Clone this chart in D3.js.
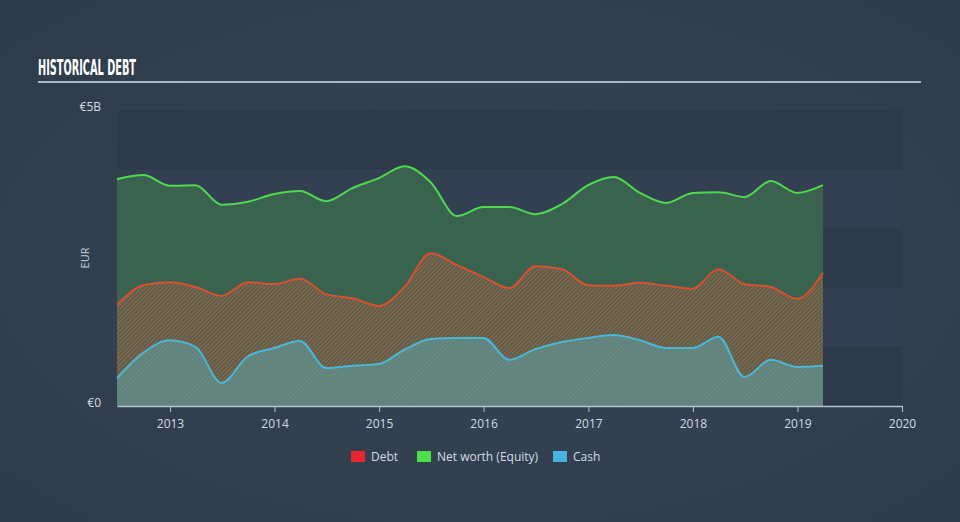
<!DOCTYPE html>
<html>
<head>
<meta charset="utf-8">
<script src="https://cdn.jsdelivr.net/npm/d3@7"></script>
<style>
  html, body { margin: 0; padding: 0; background: #323f4f; }
  svg { display: block; }
</style>
</head>
<body>
<svg id="chart"></svg>
<script>
// quarterly values, EUR billions
var dates = ['2012-06-30','2012-09-30','2012-12-31','2013-03-31','2013-06-30','2013-09-30','2013-12-31',
             '2014-03-31','2014-06-30','2014-09-30','2014-12-31','2015-03-31','2015-06-30','2015-09-30',
             '2015-12-31','2016-03-31','2016-06-30','2016-09-30','2016-12-31','2017-03-31','2017-06-30',
             '2017-09-30','2017-12-31','2018-03-31','2018-06-30','2018-09-30','2018-12-31','2019-03-31'];

var equity = [3.83,3.90,3.72,3.73,3.40,3.45,3.58,3.63,3.46,3.68,3.85,4.05,3.78,3.21,
              3.36,3.36,3.24,3.41,3.73,3.87,3.60,3.43,3.60,3.61,3.53,3.80,3.60,3.73];

var debt = [1.71,2.04,2.09,2.01,1.86,2.09,2.06,2.15,1.89,1.82,1.69,2.01,2.58,2.38,
            2.18,1.99,2.36,2.31,2.04,2.03,2.08,2.03,1.98,2.31,2.06,2.01,1.81,2.25];

var cash = [0.47,0.90,1.11,1.00,0.39,0.84,0.98,1.10,0.64,0.68,0.71,0.95,1.13,1.15,
            1.15,0.78,0.96,1.08,1.15,1.20,1.11,0.98,0.98,1.17,0.49,0.78,0.66,0.68];

var yearTicks = [2013,2014,2015,2016,2017,2018,2019,2020];
var yLabels = ['€0','€5B'];
var legendNames = ['Debt','Net worth (Equity)','Cash'];

var w = 960;
var h = 522;
var font = '"Open Sans", "DejaVu Sans", sans-serif';

var parse = d3.timeParse('%Y-%m-%d');
var rows = dates.map(function(d, i){
  return {date: parse(d), equity: equity[i], debt: debt[i], cash: cash[i]};
});

var svg = d3.select('#chart')
            .attr('width', w)
            .attr('height', h);

var defs = svg.append('defs');

var bg = defs.append('radialGradient').attr('id','bg')
             .attr('cx','50%').attr('cy','50%').attr('r','75%');
bg.append('stop').attr('offset','0%').attr('stop-color','#364557');
bg.append('stop').attr('offset','100%').attr('stop-color','#2e3a49');

var debtHatch = defs.append('pattern').attr('id','debtHatch')
                    .attr('patternUnits','userSpaceOnUse')
                    .attr('width',3).attr('height',3)
                    .attr('patternTransform','rotate(45)');
debtHatch.append('rect').attr('width',3).attr('height',3).attr('fill','#4f6450');
debtHatch.append('line').attr('x1',0).attr('y1',0).attr('x2',0).attr('y2',3)
         .attr('stroke','#c05a3c').attr('stroke-width',1.6);

var cashHatch = defs.append('pattern').attr('id','cashHatch')
                    .attr('patternUnits','userSpaceOnUse')
                    .attr('width',3).attr('height',3)
                    .attr('patternTransform','rotate(45)');
cashHatch.append('rect').attr('width',3).attr('height',3).attr('fill','#5a847f');
cashHatch.append('line').attr('x1',0).attr('y1',0).attr('x2',0).attr('y2',3)
         .attr('stroke','#7f887a').attr('stroke-width',1.4);

svg.append('rect').attr('width',w).attr('height',h).attr('fill','url(#bg)');

// title
svg.append('text')
   .attr('x',38).attr('y',75)
   .attr('fill','#ffffff')
   .attr('font-family','"Liberation Sans Narrow", "DejaVu Sans Condensed", sans-serif')
   .attr('font-weight','bold')
   .attr('font-size',21)
   .attr('textLength',98)
   .attr('lengthAdjust','spacingAndGlyphs')
   .text('HISTORICAL DEBT');

svg.append('line')
   .attr('x1',38).attr('x2',921)
   .attr('y1',82).attr('y2',82)
   .attr('stroke','#aeb7c1').attr('stroke-width',2);

var x = d3.scaleTime()
          .domain([parse('2012-06-30'), parse('2020-01-01')])
          .range([117, 902]);

var y = d3.scaleLinear()
          .domain([0, 5])
          .range([406, 110]);

// background bands
var bands = d3.range(0, 5);
svg.append('g').selectAll('rect')
   .data(bands)
   .enter()
   .append('rect')
   .attr('x', 117)
   .attr('width', 902 - 117)
   .attr('y', function(d){ return y(d + 1); })
   .attr('height', function(d){ return y(d) - y(d + 1); })
   .attr('fill', function(d){ return d % 2 == 0 ? '#2e3a4a' : '#334051'; });

var area = function(key){
  return d3.area()
           .curve(d3.curveMonotoneX)
           .x(function(d){ return x(d.date); })
           .y0(y(0))
           .y1(function(d){ return y(d[key]); });
};
var line = function(key){
  return d3.line()
           .curve(d3.curveMonotoneX)
           .x(function(d){ return x(d.date); })
           .y(function(d){ return y(d[key]); });
};

var plot = svg.append('g');

plot.append('path').datum(rows)
    .attr('d', area('equity'))
    .attr('fill','#3a634f');

plot.append('path').datum(rows)
    .attr('d', area('debt'))
    .attr('fill','url(#debtHatch)');

plot.append('path').datum(rows)
    .attr('d', area('cash'))
    .attr('fill','url(#cashHatch)');

plot.append('path').datum(rows)
    .attr('d', line('equity'))
    .attr('fill','none')
    .attr('stroke','#4fd94f')
    .attr('stroke-width',2);

plot.append('path').datum(rows)
    .attr('d', line('debt'))
    .attr('fill','none')
    .attr('stroke','#d9502f')
    .attr('stroke-width',2);

plot.append('path').datum(rows)
    .attr('d', line('cash'))
    .attr('fill','none')
    .attr('stroke','#4ab7d8')
    .attr('stroke-width',2);

// x axis
var xAxis = d3.axisBottom(x)
              .tickValues(yearTicks.map(function(yr){ return new Date(yr, 0, 1); }))
              .tickFormat(d3.timeFormat('%Y'))
              .tickSize(6)
              .tickSizeOuter(0);

var gx = svg.append('g')
            .attr('transform','translate(0,406)')
            .call(xAxis);
gx.select('.domain').attr('stroke','#b4c2cf').attr('stroke-width',1.5);
gx.selectAll('.tick line').attr('stroke','#b4c2cf');
gx.selectAll('.tick text')
  .attr('fill','#d5dbe1')
  .attr('font-family',font)
  .attr('font-size',12)
  .attr('dy','1.05em');

// y labels
svg.append('g').selectAll('text')
   .data([0, 5])
   .enter()
   .append('text')
   .attr('x',101)
   .attr('y',function(d){ return y(d) - 2; })
   .attr('text-anchor','end')
   .attr('dominant-baseline','middle')
   .attr('fill','#d5dbe1')
   .attr('font-family',font)
   .attr('font-size',12)
   .text(function(d, i){ return yLabels[i]; });

svg.append('text')
   .attr('transform','translate(86,258) rotate(-90)')
   .attr('text-anchor','middle')
   .attr('dominant-baseline','middle')
   .attr('fill','#c5ccd4')
   .attr('font-family',font)
   .attr('font-size',11)
   .text('EUR');

// legend
var legendColors = ['#e8262b','#4ae04a','#45b5e0'];
var legendX = [351, 417, 553];
var legend = svg.append('g').selectAll('g')
                .data(legendNames)
                .enter()
                .append('g')
                .attr('transform', function(d, i){ return 'translate(' + legendX[i] + ',451)'; });
legend.append('rect')
      .attr('width',14).attr('height',11)
      .attr('fill', function(d, i){ return legendColors[i]; });
legend.append('text')
      .attr('x',20).attr('y',10)
      .attr('fill','#d5dbe1')
      .attr('font-family',font)
      .attr('font-size',12)
      .text(function(d){ return d; });
</script>
</body>
</html>
